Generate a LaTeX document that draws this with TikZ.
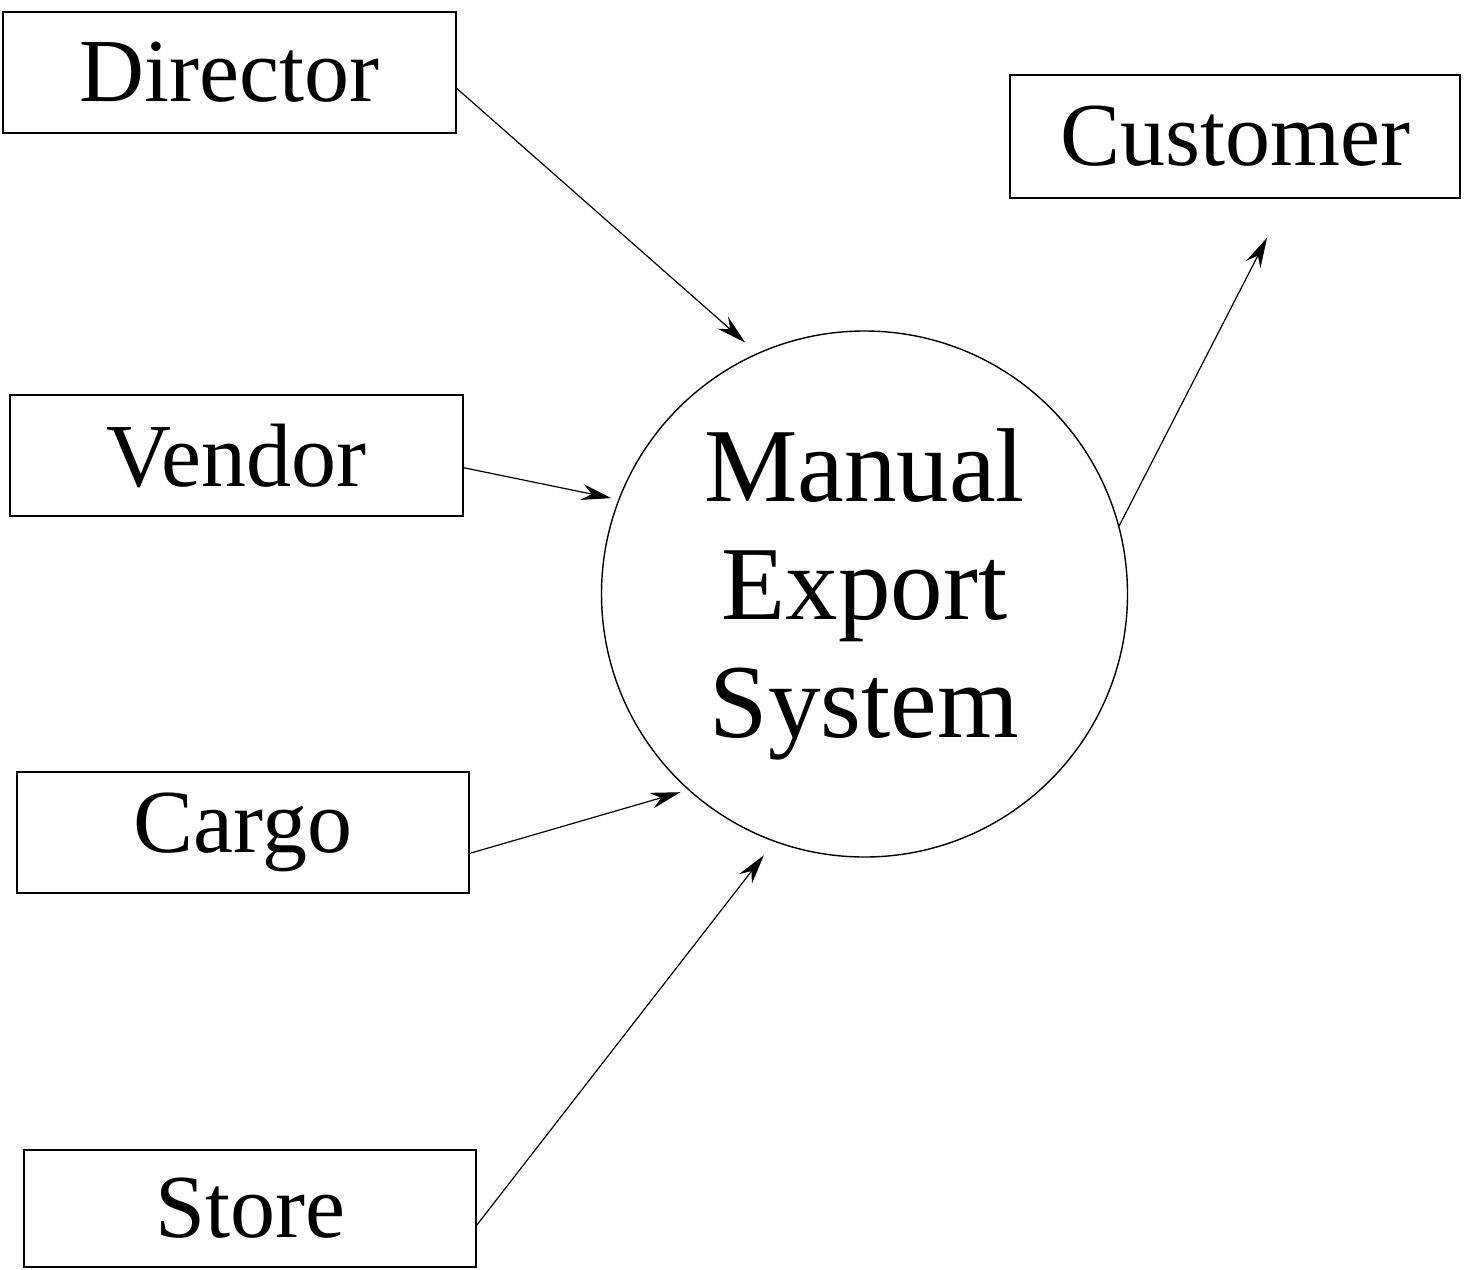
\documentclass[tikz,border=0pt]{standalone}
\usepackage{fontspec}
\setmainfont{Liberation Serif}
\usetikzlibrary{arrows.meta,calc}
\begin{document}
\begin{tikzpicture}[x=0.5pt,y=-0.5pt,
  entity/.style={draw,line width=0.8pt,inner sep=0pt,font=\fontsize{45pt}{54pt}\selectfont},
  proc/.style={draw,circle,line width=0.7pt,minimum size=263pt,inner sep=0pt,align=center,font=\fontsize{52.5pt}{59pt}\selectfont},
  flow/.style={line width=0.6pt,-{Stealth[length=15pt,width=8pt,inset=5pt]}}]
\useasboundingbox (0,0) rectangle (1471,1269);
\node[entity,minimum width=226.5pt,minimum height=60.5pt] (director) at (229.5,72.5) {Director};
\node[entity,minimum width=225pt,minimum height=61.5pt] (customer) at (1235,136.5) {Customer};
\node[entity,minimum width=226.5pt,minimum height=60.5pt] (vendor) at (236.5,455.5) {Vendor};
\node[entity,minimum width=226pt,minimum height=60.5pt] (cargo) at (243,832.5) {Cargo};
\node[entity,minimum width=226pt,minimum height=58.5pt] (store) at (250,1208.5) {Store};
\node[proc] (mes) at (864.5,594) {Manual\\Export\\System};
\coordinate (custin) at ($(customer.south)+(32,39)$);
\draw[flow,shorten >=8pt] ($(director.north east)!0.63!(director.south east)$) -- (mes.114.6);
\draw[flow,shorten >=3.5pt] ($(vendor.north east)!0.6!(vendor.south east)$) -- (mes.159);
\draw[flow,shorten >=4pt] ($(cargo.north east)!0.67!(cargo.south east)$) -- (mes.228.5);
\draw[flow,shorten >=8.5pt] ($(store.north east)!0.64!(store.south east)$) -- (mes.250.7);
\draw[flow] (mes.15.9) -- (custin);
\end{tikzpicture}
\end{document}
